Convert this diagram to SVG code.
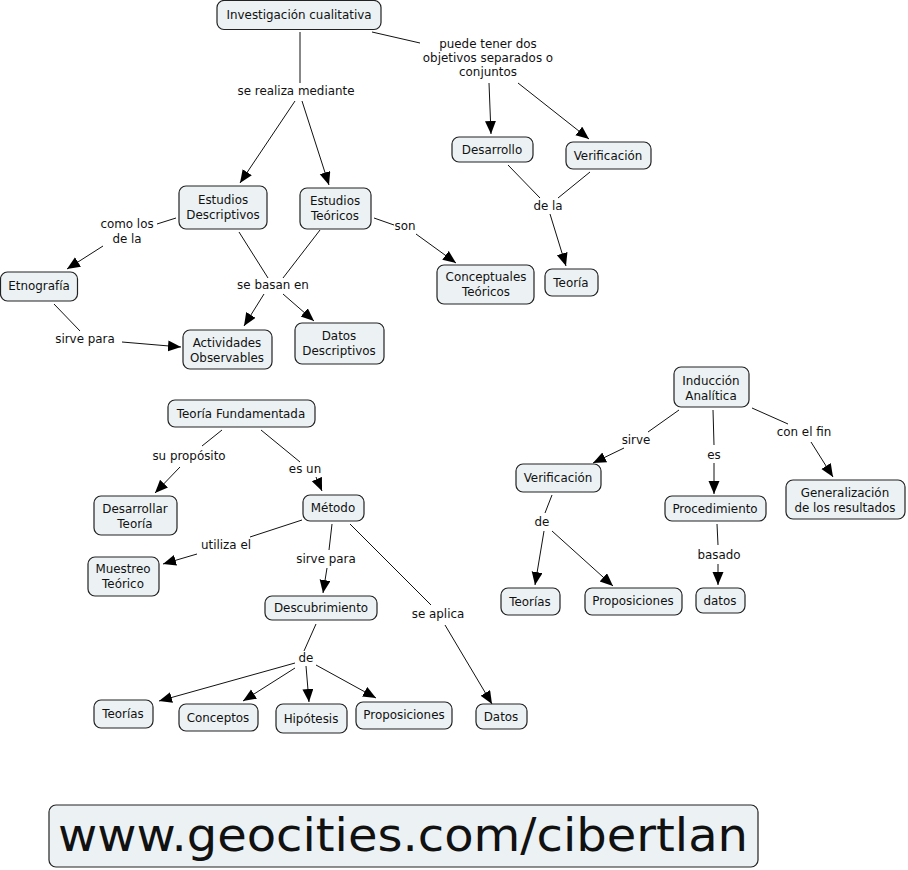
<svg xmlns="http://www.w3.org/2000/svg" width="908" height="870" viewBox="0 0 908 870">
<style>
.n rect{fill:#ecf2f4;stroke:#222;stroke-width:1.2}
text{font-family:"DejaVu Sans",Verdana,sans-serif;font-size:11.9px;fill:#111;text-anchor:middle}
.c line{stroke:#111;stroke-width:1}
.c line.a{marker-end:url(#ah)}
</style>
<defs>
<marker id="ah" markerUnits="userSpaceOnUse" markerWidth="14" markerHeight="12" refX="13" refY="5.5" orient="auto">
<path d="M0,0 L13,5.5 L0,11 z" fill="#000"/>
</marker>
</defs>
<rect width="908" height="870" fill="#fff"/>
<g class="c" id="connectors">
<line x1="300" y1="32" x2="300" y2="83"/>
<line class="a" x1="295" y1="101" x2="240" y2="183"/>
<line class="a" x1="302" y1="101" x2="329" y2="185"/>
<line x1="372" y1="32" x2="420" y2="43"/>
<line class="a" x1="489" y1="83" x2="491" y2="134"/>
<line class="a" x1="518" y1="83" x2="589" y2="139"/>
<line x1="508" y1="165" x2="540" y2="198"/>
<line x1="590" y1="172" x2="558" y2="198"/>
<line class="a" x1="550" y1="214" x2="566" y2="266"/>
<line x1="374" y1="218" x2="394" y2="225"/>
<line class="a" x1="416" y1="234" x2="456" y2="263"/>
<line x1="176" y1="218" x2="157" y2="224"/>
<line class="a" x1="103" y1="246" x2="67" y2="269"/>
<line x1="54" y1="304" x2="80" y2="331"/>
<line class="a" x1="122" y1="342" x2="181" y2="347"/>
<line x1="239" y1="232" x2="268" y2="278"/>
<line x1="320" y1="230" x2="283" y2="278"/>
<line class="a" x1="264" y1="294" x2="244" y2="326"/>
<line class="a" x1="283" y1="294" x2="314" y2="321"/>
<line x1="222" y1="430" x2="202" y2="446"/>
<line class="a" x1="180" y1="467" x2="155" y2="493"/>
<line x1="261" y1="430" x2="300" y2="462"/>
<line class="a" x1="316" y1="477" x2="322" y2="491"/>
<line x1="302" y1="520" x2="250" y2="537"/>
<line class="a" x1="197" y1="554" x2="163" y2="564"/>
<line x1="332" y1="524" x2="329" y2="550"/>
<line class="a" x1="327" y1="568" x2="323" y2="593"/>
<line x1="350" y1="524" x2="431" y2="605"/>
<line class="a" x1="445" y1="625" x2="492" y2="704"/>
<line x1="316" y1="624" x2="304" y2="651"/>
<line class="a" x1="295" y1="663" x2="159" y2="701"/>
<line class="a" x1="295" y1="668" x2="243" y2="701"/>
<line class="a" x1="306" y1="666" x2="309" y2="702"/>
<line class="a" x1="316" y1="665" x2="376" y2="698"/>
<line x1="679" y1="410" x2="648" y2="432"/>
<line class="a" x1="624" y1="448" x2="593" y2="463"/>
<line x1="552" y1="495" x2="545" y2="513"/>
<line class="a" x1="544" y1="531" x2="535" y2="585"/>
<line class="a" x1="552" y1="531" x2="613" y2="586"/>
<line x1="713" y1="410" x2="714" y2="445"/>
<line class="a" x1="714" y1="463" x2="714" y2="494"/>
<line x1="717" y1="524" x2="718" y2="545"/>
<line class="a" x1="718" y1="564" x2="718" y2="585"/>
<line x1="752" y1="408" x2="788" y2="424"/>
<line class="a" x1="811" y1="442" x2="833" y2="477"/>
</g>
<g id="labels">
<text x="296" y="95">se realiza mediante</text>
<text x="488" y="48">puede tener dos</text>
<text x="488" y="62">objetivos separados o</text>
<text x="488" y="76">conjuntos</text>
<text x="548" y="210">de la</text>
<text x="405" y="230">son</text>
<text x="127" y="228">como los</text>
<text x="127" y="243">de la</text>
<text x="85" y="343">sirve para</text>
<text x="273" y="289">se basan en</text>
<text x="189" y="460">su propósito</text>
<text x="305" y="473">es un</text>
<text x="226" y="549">utiliza el</text>
<text x="326" y="563">sirve para</text>
<text x="438" y="618">se aplica</text>
<text x="306" y="662">de</text>
<text x="636" y="444">sirve</text>
<text x="542" y="526">de</text>
<text x="714" y="459">es</text>
<text x="719" y="559">basado</text>
<text x="804" y="436">con el fin</text>
</g>
<g class="n" id="n-investigacion"><rect x="217" y="0.5" width="164" height="29" rx="7"/><text x="299" y="19">Investigación cualitativa</text></g>
<g class="n" id="n-desarrollo"><rect x="452" y="137" width="81" height="25" rx="7"/><text x="492" y="154">Desarrollo</text></g>
<g class="n" id="n-verificacion1"><rect x="566" y="142" width="85" height="27" rx="7"/><text x="608" y="160">Verificación</text></g>
<g class="n" id="n-teoria"><rect x="545" y="269" width="53" height="27" rx="7"/><text x="571" y="287">Teoría</text></g>
<g class="n" id="n-conceptuales"><rect x="437" y="265" width="97" height="39" rx="7"/><text x="486" y="281">Conceptuales</text><text x="486" y="296">Teóricos</text></g>
<g class="n" id="n-descriptivos"><rect x="179" y="186" width="88" height="43" rx="7"/><text x="223" y="204">Estudios</text><text x="223" y="219">Descriptivos</text></g>
<g class="n" id="n-teoricos"><rect x="300" y="188" width="71" height="41" rx="7"/><text x="335" y="205">Estudios</text><text x="335" y="220">Teóricos</text></g>
<g class="n" id="n-etnografia"><rect x="0.5" y="272" width="77" height="29" rx="7"/><text x="39" y="290">Etnografía</text></g>
<g class="n" id="n-actividades"><rect x="183" y="330" width="89" height="39" rx="7"/><text x="227" y="347">Actividades</text><text x="227" y="362">Observables</text></g>
<g class="n" id="n-datosdesc"><rect x="295" y="323" width="89" height="41" rx="7"/><text x="339" y="340">Datos</text><text x="339" y="355">Descriptivos</text></g>
<g class="n" id="n-teoriafund"><rect x="168" y="400" width="147" height="27" rx="7"/><text x="241" y="418">Teoría Fundamentada</text></g>
<g class="n" id="n-desarrollar"><rect x="94" y="496" width="83" height="39" rx="7"/><text x="135" y="513">Desarrollar</text><text x="135" y="528">Teoría</text></g>
<g class="n" id="n-metodo"><rect x="303" y="495" width="61" height="26" rx="7"/><text x="333" y="512">Método</text></g>
<g class="n" id="n-muestreo"><rect x="88" y="557" width="71" height="39" rx="7"/><text x="123" y="573">Muestreo</text><text x="123" y="588">Teórico</text></g>
<g class="n" id="n-descubrimiento"><rect x="265" y="596" width="112" height="24" rx="7"/><text x="321" y="612">Descubrimiento</text></g>
<g class="n" id="n-datos"><rect x="476" y="704" width="51" height="25" rx="7"/><text x="501" y="721">Datos</text></g>
<g class="n" id="n-teorias1"><rect x="94" y="700" width="59" height="28" rx="7"/><text x="123" y="718">Teorías</text></g>
<g class="n" id="n-conceptos"><rect x="179" y="704" width="79" height="27" rx="7"/><text x="218" y="722">Conceptos</text></g>
<g class="n" id="n-hipotesis"><rect x="276" y="704" width="71" height="29" rx="7"/><text x="311" y="723">Hipótesis</text></g>
<g class="n" id="n-proposiciones1"><rect x="356" y="702" width="96" height="27" rx="7"/><text x="404" y="719">Proposiciones</text></g>
<g class="n" id="n-induccion"><rect x="674" y="367" width="75" height="40" rx="7"/><text x="711" y="385">Inducción</text><text x="711" y="400">Analítica</text></g>
<g class="n" id="n-verificacion2"><rect x="516" y="464" width="85" height="28" rx="7"/><text x="558" y="482">Verificación</text></g>
<g class="n" id="n-teorias2"><rect x="501" y="588" width="59" height="27" rx="7"/><text x="530" y="606">Teorías</text></g>
<g class="n" id="n-proposiciones2"><rect x="585" y="588" width="97" height="27" rx="7"/><text x="633" y="605">Proposiciones</text></g>
<g class="n" id="n-procedimiento"><rect x="665" y="496" width="101" height="25" rx="7"/><text x="715" y="513">Procedimiento</text></g>
<g class="n" id="n-datos2"><rect x="696" y="588" width="49" height="25" rx="7"/><text x="720" y="605">datos</text></g>
<g class="n" id="n-generalizacion"><rect x="786" y="480" width="119" height="39" rx="7"/><text x="845" y="497">Generalización</text><text x="845" y="512">de los resultados</text></g>
<g class="n" id="n-url"><rect x="49" y="805" width="709" height="62" rx="7"/><text x="403" y="851" style="font-size:46px" textLength="690" lengthAdjust="spacingAndGlyphs">www.geocities.com/cibertlan</text></g>
</svg>
